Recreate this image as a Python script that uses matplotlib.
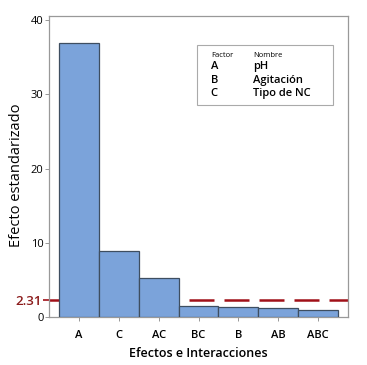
import matplotlib.pyplot as plt
from matplotlib.patches import Rectangle

plt.rcParams['font.family'] = ['Open Sans', 'DejaVu Sans']

efectos = ['A', 'C', 'AC', 'BC', 'B', 'AB', 'ABC']
valores = [36.9, 8.9, 5.2, 1.45, 1.4, 1.2, 0.9]
limite = 2.31
factores = ['A', 'B', 'C']
nombres = ['pH', 'Agitación', 'Tipo de NC']

fig = plt.figure(figsize=(3.67, 3.65), dpi=100)
ax = fig.add_axes([0.1335, 0.1315, 0.815, 0.825])

x = range(len(efectos))
ax.bar(x, valores, width=1.0, color='#7BA3DA', edgecolor='#3E4E60', linewidth=0.9, zorder=3)
ax.axhline(limite, color='#A01018', lw=1.8, dashes=(10, 4), zorder=2)

ax.set_xlim(-0.75, 6.75)
ax.set_ylim(0, 40.6)
ax.set_yticks([0, 10, 20, 30, 40])
ax.set_yticks([limite], minor=True)
ax.set_yticklabels(['2.31'], minor=True, fontsize=9.5, fontweight='semibold', color='#8B1A1A')
ax.set_xticks(list(x))
ax.set_xticklabels(efectos, fontsize=8, fontweight='semibold')
ax.tick_params(axis='y', labelsize=8, length=3, width=0.6, color='#888888', pad=1)
ax.tick_params(axis='y', which='minor', length=4, width=1.2, color='#A01018', pad=1)
ax.tick_params(axis='x', length=3, width=0.6, color='#888888', pad=6)
for s in ax.spines.values():
    s.set_color('#999999')
    s.set_linewidth(0.9)

ax.set_ylabel('Efecto estandarizado', fontsize=10.5, va='center')
ax.yaxis.set_label_coords(-0.11, 0.47)
ax.set_xlabel('Efectos e Interacciones', fontsize=9, fontweight='semibold', labelpad=5)

# cuadro de factores
ax.add_patch(Rectangle((0.495, 0.704), 0.455, 0.2, transform=ax.transAxes,
                       facecolor='white', edgecolor='#AAAAAA', lw=0.8, zorder=4))
ax.text(0.541, 0.87, 'Factor', transform=ax.transAxes, fontsize=5.5, va='center', zorder=5)
ax.text(0.682, 0.87, 'Nombre', transform=ax.transAxes, fontsize=5.5, va='center', zorder=5)
for i, (f, n) in enumerate(zip(factores, nombres)):
    yy = 0.831 - i * 0.045
    ax.text(0.541, yy, f, transform=ax.transAxes, fontsize=8, fontweight='semibold', va='center', zorder=5)
    ax.text(0.682, yy, n, transform=ax.transAxes, fontsize=8, fontweight='semibold', va='center', zorder=5)

fig.savefig('out.png', dpi=100)
